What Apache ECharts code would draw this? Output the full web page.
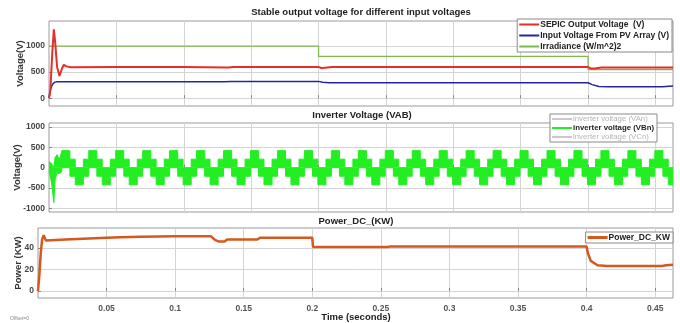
<!DOCTYPE html>
<html>
<head>
<meta charset="utf-8">
<script src="https://cdn.jsdelivr.net/npm/echarts@6.0.0/dist/echarts.min.js"></script>
<style>
  html, body { margin: 0; padding: 0; background: #fff; }
  #chart { width: 680px; height: 323px; }
</style>
</head>
<body>
<div id="chart"></div>
<script>
  // time (s) / value pairs
  var sepicOut = [[0,0],[0.001,150],[0.0025,900],[0.0036,1320],[0.0045,1100],[0.006,600],[0.0078,425],
    [0.0095,560],[0.011,640],[0.013,610],[0.016,595],[0.05,598],[0.1,598],[0.133,590],[0.137,600],
    [0.2,600],[0.202,578],[0.205,585],[0.21,596],[0.3,596],[0.4,596],[0.402,570],[0.405,568],[0.41,588],[0.463,590]];
  var pvInput = [[0,0],[0.001,150],[0.002,230],[0.003,280],[0.0045,308],[0.006,315],[0.05,315],[0.13,315],
    [0.135,322],[0.2,322],[0.203,305],[0.208,295],[0.3,295],[0.4,295],[0.403,260],[0.408,225],[0.415,218],
    [0.455,218],[0.463,235]];
  var irradiance = [[0,1000],[0.2,800],[0.4,550],[0.463,550]];

  // inverter VBn: start-up transient envelope, then one measured cycle of the stepped band
  var invStartUpper = [[0,150],[0.002,100],[0.0036,0],[0.0045,250],[0.006,320],[0.0075,200],[0.0085,280],[0.0095,280]];
  var invStartLower = [[0,-50],[0.002,-400],[0.0036,-860],[0.0045,-300],[0.006,-120],[0.0075,-150],[0.0085,-170],[0.0095,-100]];
  var invCycleUpper = [420, 210, 0, 210];
  var invCycleLower = [0, -210, -420, -210];
  var invCycleShare = [0.3, 0.2, 0.3, 0.2];
  var invCycleStart = 0.0095;
  var invPeriod = 0.02;
  var invEnd = 0.463;

  var powerDC = [[0,0],[0.001,15],[0.002,35],[0.003,48],[0.0042,52],[0.005,49],[0.0058,47],[0.0068,48],
    [0.02,48],[0.021,49.5],[0.05,49.5],[0.06,50],[0.075,50.5],[0.1,51],[0.126,51],[0.129,47.5],[0.132,46],
    [0.136,46],[0.138,48],[0.16,48],[0.162,49.5],[0.2,49.5],[0.2005,41],[0.255,41],[0.257,41.5],[0.4,41.5],
    [0.401,35],[0.403,28],[0.408,24],[0.415,23.3],[0.455,23.3],[0.458,24],[0.463,24.5]];

  var timeTicks = [0.05,0.1,0.15,0.2,0.25,0.3,0.35,0.4,0.45];
  var voltTicksTop = [0,500,1000];
  var voltTicksInv = [-1000,-500,0,500,1000];
  var powerTicks = [0,20,40];

  function stepBand(start, cycle) {
    var out = start.slice();
    var t = invCycleStart, k = 0;
    while (t < invEnd - 1e-9) {
      var i = k % cycle.length;
      var t1 = Math.min(t + invPeriod * invCycleShare[i], invEnd);
      out.push([t, cycle[i]], [t1, cycle[i]]);
      t = t1; k++;
    }
    return out;
  }
  var invUpper = stepBand(invStartUpper, invCycleUpper);
  var invLower = stepBand(invStartLower, invCycleLower);

  var FONT = 'Liberation Sans';
  var gridColor = '#d4d4d4';

  function xAxisFor(idx, showLabels) {
    return {
      type: 'value', gridIndex: idx, min: 0, max: 0.463,
      axisLine: { show: false },
      axisTick: { show: true, inside: true, length: 3, lineStyle: { color: '#888' }, customValues: timeTicks },
      axisLabel: {
        show: showLabels, customValues: timeTicks, color: '#555', fontFamily: FONT, fontWeight: 'bold',
        fontSize: 8.5, margin: 6,
        formatter: function (v) { return String(+v.toFixed(2)); }
      },
      splitLine: { show: true, lineStyle: { color: gridColor, width: 1 } }
    };
  }
  function yAxisFor(idx, min, max, ticks, name, gap) {
    return {
      type: 'value', gridIndex: idx, min: min, max: max,
      name: name, nameLocation: 'middle', nameGap: gap, nameMoveOverlap: false,
      nameTextStyle: { color: '#333', fontFamily: FONT, fontWeight: 'bold', fontSize: 9.5 },
      axisLine: { show: false },
      axisTick: { show: true, inside: true, length: 3, lineStyle: { color: '#888' }, customValues: ticks },
      axisLabel: {
        customValues: ticks, color: '#444', fontFamily: FONT, fontWeight: 'bold', fontSize: 8.5, margin: 4,
        formatter: function (v) { return String(v); }
      },
      splitLine: { show: true, lineStyle: { color: gridColor, width: 1 } }
    };
  }
  function legendBox(extra) {
    var base = {
      orient: 'vertical', backgroundColor: '#fff', borderColor: '#8a8a8a', borderWidth: 1,
      icon: 'rect', itemWidth: 20, itemHeight: 2, itemGap: 2, padding: [1, 3, 1, 2],
      textStyle: { color: '#222', fontFamily: FONT, fontWeight: 'bold', fontSize: 8.5, padding: [0, 0, 0, -4] }
    };
    for (var k in extra) base[k] = extra[k];
    return base;
  }

  var titleStyle = { color: '#222', fontFamily: FONT, fontWeight: 'bold', fontSize: 9.5 };

  var option = {
    animation: false,
    backgroundColor: '#fff',
    title: [
      { text: 'Stable output voltage for different input voltages', left: 361, top: 7, textAlign: 'center', textStyle: titleStyle, padding: 0 },
      { text: 'Inverter Voltage (VAB)', left: 362, top: 110, textAlign: 'center', textStyle: titleStyle, padding: 0 },
      { text: 'Power_DC_(KW)', left: 356, top: 216, textAlign: 'center', textStyle: titleStyle, padding: 0 },
      { text: 'Time (seconds)', left: 356, top: 312, textAlign: 'center', textStyle: titleStyle, padding: 0 }
    ],
    grid: [
      { left: 49, right: 7, top: 21, height: 85, show: true, borderColor: '#9a9a9a', borderWidth: 1, backgroundColor: '#fff' },
      { left: 49, right: 7, top: 123, height: 89, show: true, borderColor: '#9a9a9a', borderWidth: 1, backgroundColor: '#fff' },
      { left: 38, right: 7, top: 228, height: 70, show: true, borderColor: '#9a9a9a', borderWidth: 1, backgroundColor: '#fff' }
    ],
    xAxis: [xAxisFor(0, false), xAxisFor(1, false), xAxisFor(2, true)],
    yAxis: [
      yAxisFor(0, -150, 1480, voltTicksTop, 'Voltage(V)', 24),
      yAxisFor(1, -1090, 1100, voltTicksInv, 'Voltage(V)', 27),
      yAxisFor(2, -6.5, 58.6, powerTicks, 'Power (KW)', 15)
    ],
    legend: [
      legendBox({
        right: 8, top: 19,
        data: ['SEPIC Output Voltage  (V)', 'Input Voltage From PV Array (V)', 'Irradiance (W/m^2)2']
      }),
      legendBox({
        right: 23, top: 114, itemGap: 1,
        textStyle: { color: '#222', fontFamily: FONT, fontWeight: 'bold', fontSize: 7.8, padding: [0, 0, 0, -4] },
        data: [
          { name: 'inverter voltage (VAn)', textStyle: { color: '#b5b5b5', fontWeight: 'normal' } },
          { name: 'inverter voltage (VBn)' },
          { name: 'inverter voltage (VCn)', textStyle: { color: '#b5b5b5', fontWeight: 'normal' } }
        ]
      }),
      legendBox({
        right: 7, top: 232, itemHeight: 3,
        data: ['Power_DC_KW']
      })
    ],
    graphic: [
      { type: 'text', left: 10, top: 316, style: { text: 'Offset=0', fontSize: 5, fill: '#888', fontFamily: FONT } }
    ],
    series: [
      { name: 'SEPIC Output Voltage  (V)', type: 'line', xAxisIndex: 0, yAxisIndex: 0, data: sepicOut,
        showSymbol: false, color: '#e2302c', lineStyle: { width: 2 }, z: 4 },
      { name: 'Input Voltage From PV Array (V)', type: 'line', xAxisIndex: 0, yAxisIndex: 0, data: pvInput,
        showSymbol: false, color: '#25259e', lineStyle: { width: 1.5 }, z: 3 },
      { name: 'Irradiance (W/m^2)2', type: 'line', xAxisIndex: 0, yAxisIndex: 0, data: irradiance, step: 'end',
        showSymbol: false, color: '#7fb84c', lineStyle: { width: 1.3 }, z: 2 },

      { name: 'inverter voltage (VAn)', type: 'line', xAxisIndex: 1, yAxisIndex: 1, data: [],
        showSymbol: false, color: '#c8c8c8' },
      { name: 'inverter voltage (VBn)', type: 'line', xAxisIndex: 1, yAxisIndex: 1, data: invUpper,
        showSymbol: false, color: '#22ee22', lineStyle: { width: 1 }, areaStyle: { color: '#22ee22', opacity: 1 } },
      { name: 'inverter voltage (VBn)', type: 'line', xAxisIndex: 1, yAxisIndex: 1, data: invLower,
        showSymbol: false, color: '#22ee22', lineStyle: { width: 1 }, areaStyle: { color: '#22ee22', opacity: 1 } },
      { name: 'inverter voltage (VCn)', type: 'line', xAxisIndex: 1, yAxisIndex: 1, data: [],
        showSymbol: false, color: '#c8c8c8' },

      { name: 'Power_DC_KW', type: 'line', xAxisIndex: 2, yAxisIndex: 2, data: powerDC,
        showSymbol: false, color: '#d5581f', lineStyle: { width: 2.5 } }
    ]
  };

  var chart = echarts.init(document.getElementById('chart'), null, { renderer: 'canvas' });
  chart.setOption(option);
</script>
</body>
</html>
